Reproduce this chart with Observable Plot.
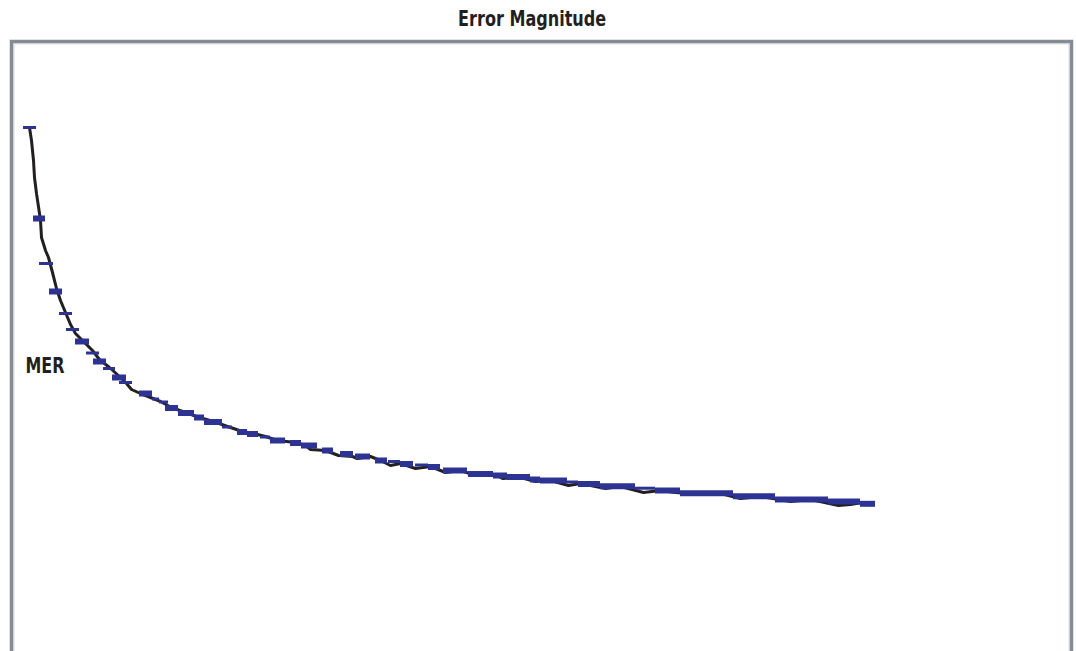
<!DOCTYPE html>
<html>
<head>
<meta charset="utf-8">
<script src="https://cdn.jsdelivr.net/npm/d3@7"></script>
<script src="https://cdn.jsdelivr.net/npm/@observablehq/plot@0.6"></script>
<style>
  html, body { margin: 0; padding: 0; background: #fff; overflow: hidden; width: 1076px; height: 651px; }
  #title { height: 40px; line-height: 38px; text-align: center; padding-right: 12px; box-sizing: border-box;
    font-family: "Liberation Sans Narrow", "DejaVu Sans Condensed", "Roboto", sans-serif; font-stretch: condensed;
    font-weight: bold; font-size: 21px; color: #231f20; }
  #title span { display: inline-block; transform: scaleX(0.85); transform-origin: center; }
  #chart svg { display: block; overflow: visible; }
</style>
</head>
<body>
<div id="title"><span>Error Magnitude</span></div>
<div id="chart"></div>
<script>
// Black curve: sample index and MER value
const lineSample = [18,20,22,23,25,28,29,30,34,37,41,45,49,54,59,64,71,81,88,98,108,115,120,129,139,149,160,174,188,202,216,231,242,254,266,284,294,299,314,327,341,346,359,369,379,389,404,419,434,449,464,484,491,509,524,539,557,569,594,609,632,649,664,689,709,729,749,779,799,827,839,851,859];
const lineMER = [57.3,56.0,54.0,52.3,50.7,48.7,48.0,46.3,45.0,44.3,42.8,41.2,40.0,38.8,37.6,36.7,36.0,35.0,34.1,33.3,32.4,31.7,31.1,30.7,30.3,29.9,29.3,28.8,28.3,27.9,27.4,26.9,26.7,26.4,26.0,25.8,25.5,25.1,25.0,24.5,24.4,24.2,24.4,24.0,23.5,23.7,23.2,23.4,22.8,23.0,22.5,22.6,22.2,22.3,21.9,22.0,21.5,21.7,21.2,21.4,20.8,21.0,20.8,20.6,20.7,20.2,20.4,19.9,20.1,19.5,19.6,19.8,19.7];

// Blue bins: start/end sample, binned MER, number of observations in bin
const binStart = [12,22,28,38,48,55,64,75,82,92,101,108,128,141,148,154,167,183,193,211,226,236,249,259,279,290,311,329,344,364,377,389,404,417,432,457,482,496,519,529,556,567,589,624,644,669,722,764,817,849];
const binEnd   = [25,34,42,51,61,68,78,88,95,104,115,121,141,148,157,167,183,193,211,221,236,247,259,274,290,306,322,342,359,376,389,402,417,429,456,482,496,519,529,556,567,589,624,644,669,722,764,817,849,864];
const binMER   = [57.3,48.2,43.7,40.9,38.7,37.1,35.9,34.75,33.9,33.2,32.3,31.8,30.7,30.15,29.85,29.25,28.75,28.3,27.85,27.35,26.85,26.65,26.35,26.0,25.75,25.5,25.0,24.65,24.4,24.0,23.9,23.65,23.55,23.35,23.0,22.65,22.5,22.35,22.1,22.0,21.85,21.65,21.43,21.23,21.0,20.73,20.43,20.1,19.9,19.67];
const binCount = [1,2,1,2,1,1,2,1,2,1,2,1,2,1,1,2,2,2,2,1,2,2,1,2,2,2,2,2,2,2,1,2,1,2,2,2,2,2,2,2,1,2,2,1,2,2,2,2,2,2];

const lineData = lineSample.map((s, i) => ({sample: s, mer: lineMER[i]}));
const binData = binStart.map((s, i) => ({x1: s, x2: binEnd[i], mer: binMER[i], n: binCount[i]}));

const chart = Plot.plot({
  width: 1076,
  height: 660,
  marginLeft: 11,
  marginRight: 5,
  marginTop: 1,
  marginBottom: 0,
  style: {background: "transparent", overflow: "visible"},
  x: {domain: [0, 1060], axis: null},
  y: {domain: [0, 65.9], axis: null},
  marks: [
    Plot.frame({stroke: "#dcd8e4", strokeWidth: 1, inset: 2.5}),
    Plot.frame({stroke: "#858c93", strokeWidth: 3.5}),
    Plot.line(lineData, {x: "sample", y: "mer", stroke: "#231f20", strokeWidth: 3}),
    Plot.ruleY(binData, {x1: "x1", x2: "x2", y: "mer", stroke: "#2d3393",
      strokeWidth: d => d.n > 1 ? 6 : 3}),
    Plot.text(["MER"], {frameAnchor: "left", dx: 14, dy: -5, textAnchor: "start",
      fontFamily: "'Liberation Sans Narrow', 'DejaVu Sans Condensed', Roboto, sans-serif",
      fontWeight: "bold", fontSize: 22, fill: "#231f20"})
  ]
});
d3.select(chart).selectAll("text").filter(function() { return this.textContent === "MER"; })
  .attr("textLength", 39).attr("lengthAdjust", "spacingAndGlyphs");
document.getElementById("chart").appendChild(chart);
</script>
</body>
</html>
